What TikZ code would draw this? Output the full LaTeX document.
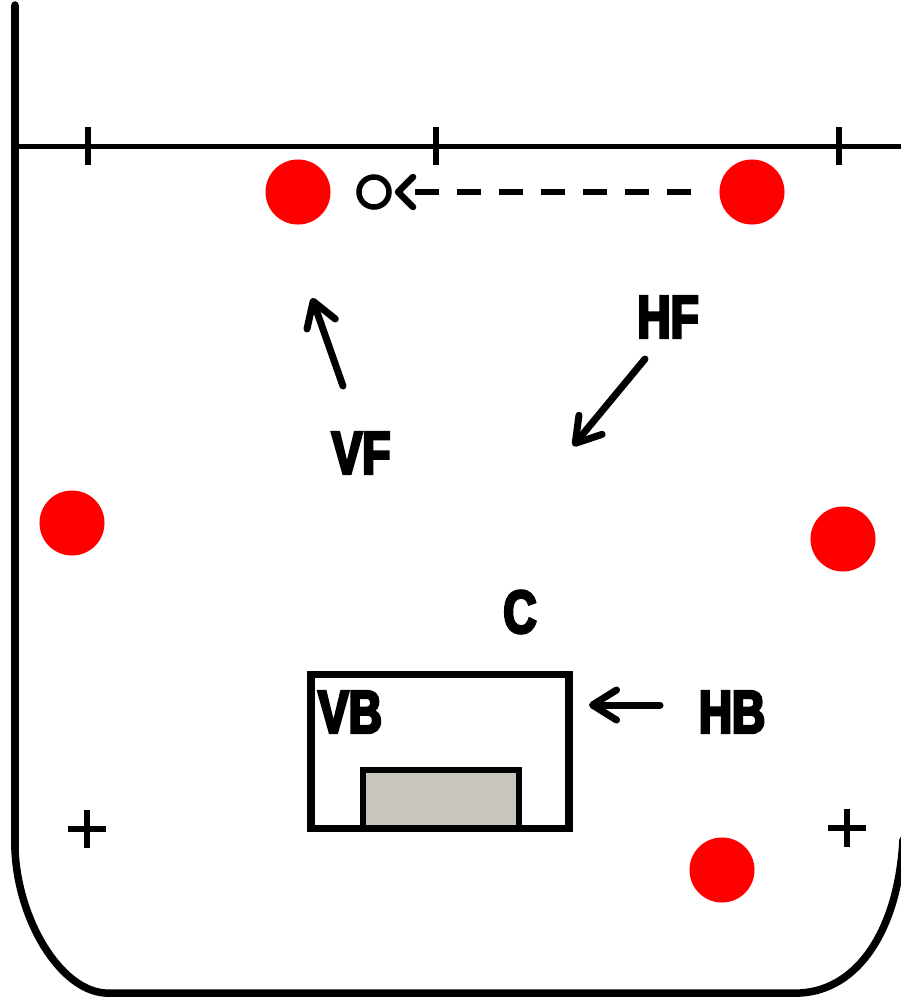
\documentclass[tikz,border=0pt]{standalone}
\usepackage{fontspec}
\newfontfamily\lblfont[FakeStretch=0.76,FakeBold=4.5]{Liberation Sans}
\usetikzlibrary{arrows.meta}
\definecolor{keeper}{RGB}{200,196,190}
\definecolor{player}{RGB}{255,0,0}
\tikzset{
  border/.style={line width=0.075cm, line cap=round},
  thick line/.style={line width=0.065cm, line cap=butt},
  dot/.style={circle, fill=player, minimum size=0.65cm, inner sep=0pt, outer sep=0pt},
  ballnode/.style={circle, draw, line width=0.055cm, minimum size=0.30cm, inner sep=0pt},
  lbl/.style={font=\lblfont\bfseries\fontsize{17.2}{19}\selectfont, inner sep=0pt, text=black},
  runarrow/.style={line width=0.07cm, line cap=round,
     -{Straight Barb[length=0.24cm,width=0.30cm,line cap=round,line join=round]}},
  passarrow/.style={line width=0.065cm, dash pattern=on 0.24cm off 0.18cm,
     -{Straight Barb[length=0.15cm,width=0.30cm,line cap=round,line join=round]}}
}
\begin{document}
\begin{tikzpicture}[x=0.01cm,y=-0.01cm]
\useasboundingbox (0,0) rectangle (901,999);
\fill[white] (0,0) rectangle (901,999);
% court outline
\draw[border] (15,5) -- (15,850) .. controls (18,920) and (60,990) .. (105,993)
   -- (800,993) .. controls (858,990) and (898,930) .. (903,840);
% top line and ticks
\draw[line width=0.05cm] (15,146) -- (901,146);
\foreach \tx in {88,436,839} \draw[thick line] (\tx,127) -- (\tx,165);
% crosses
\foreach \cx/\cy in {87/829,847/828} {
  \draw[thick line] (\cx-19,\cy) -- (\cx+19,\cy);
  \draw[thick line] (\cx,\cy-19) -- (\cx,\cy+19);
}
% goal area
\draw[line width=0.065cm, fill=keeper] (363,828) -- (363,770) -- (519,770) -- (519,828);
\draw[line width=0.07cm] (311,674) rectangle (569,828);
% players
\node[dot] (p1) at (298,192) {};
\node[dot] (p2) at (752,192) {};
\node[dot] (p3) at (72,523) {};
\node[dot] (p4) at (843,539) {};
\node[dot] (p5) at (722,870) {};
% ball and pass
\node[ballnode] (ball) at (374,192) {};
\draw[passarrow, shorten <=0.28cm, shorten >=0.03cm] (p2) -- (ball);
% labels
\node[lbl] (vf) at (361,453) {VF};
\node[lbl] (hf) at (668,317) {HF};
\node[lbl] (c) at (520,612) {C};
\node[lbl] (vb) at (350,712) {VB};
\node[lbl] (hb) at (732,712) {HB};
% movement arrows
\coordinate (vfs) at (343,386);
\coordinate (vfe) at (312,298);
\coordinate (hfs) at (645,359);
\coordinate (hfe) at (573,446);
\coordinate (hbs) at (660,705);
\coordinate (hbe) at (589,705);
\draw[runarrow] (vfs) -- (vfe);
\draw[runarrow] (hfs) -- (hfe);
\draw[runarrow] (hbs) -- (hbe);
\end{tikzpicture}
\end{document}
